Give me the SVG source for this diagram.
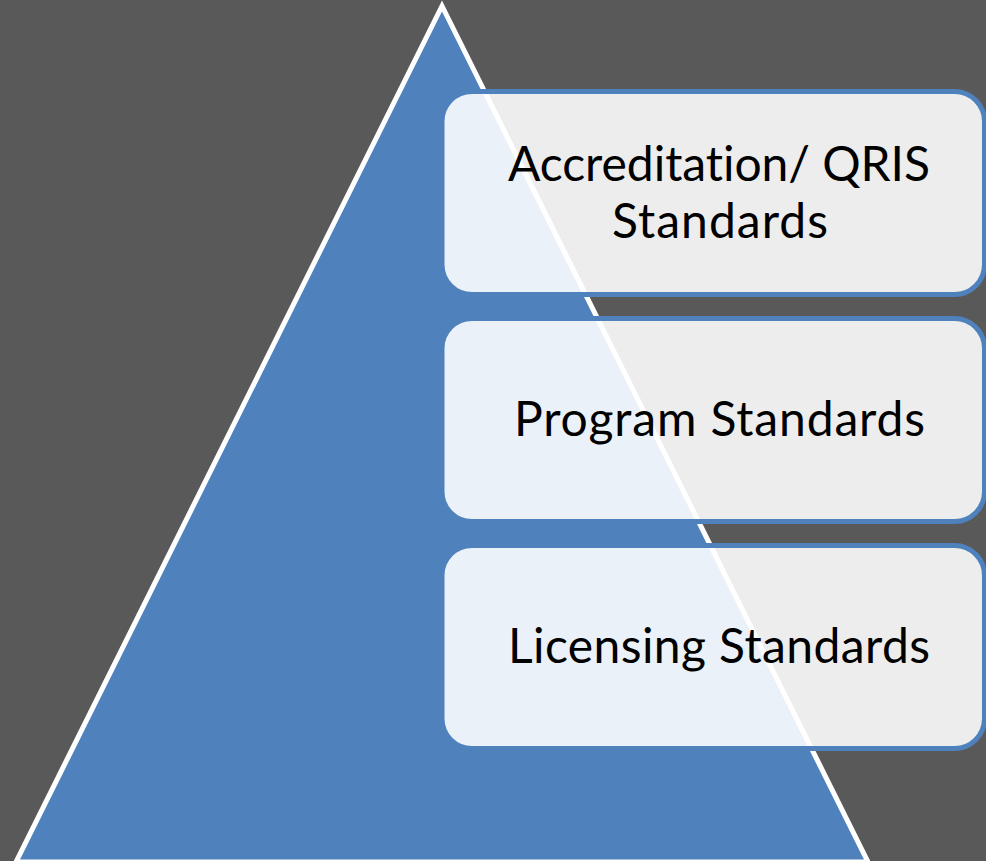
<svg xmlns="http://www.w3.org/2000/svg" width="986" height="861" viewBox="0 0 986 861">
  <style>
    .box { fill: #ffffff; fill-opacity: 0.89; stroke: #4F81BD; stroke-width: 5; }
    .lbl { font-family: Lato, "Open Sans", "Liberation Sans", sans-serif; font-size: 48px; fill: #000000; text-anchor: middle; font-variant-ligatures: none; font-feature-settings: "liga" 0, "clig" 0; }
  </style>
  <rect x="0" y="0" width="986" height="861" fill="#595959"/>
  <g id="pyramid">
    <polygon points="442,6 868,862 16,862" fill="#4F81BD" stroke="#ffffff" stroke-width="5" stroke-linejoin="miter"/>
  </g>
  <g id="connectors"></g>
  <g id="node-accreditation">
    <rect class="box" x="442" y="91.5" width="542.5" height="203" rx="30" ry="30"/>
    <text class="lbl" x="719" y="181" textLength="422">Accreditation/ QRIS</text>
    <text class="lbl" x="720" y="238" textLength="216">Standards</text>
  </g>
  <g id="node-program">
    <rect class="box" x="442" y="318.5" width="542.5" height="203" rx="30" ry="30"/>
    <text class="lbl" x="719.5" y="436" textLength="411">Program Standards</text>
  </g>
  <g id="node-licensing">
    <rect class="box" x="442" y="545.5" width="542.5" height="203" rx="30" ry="30"/>
    <text class="lbl" x="719" y="663" textLength="422">Licensing Standards</text>
  </g>
</svg>
